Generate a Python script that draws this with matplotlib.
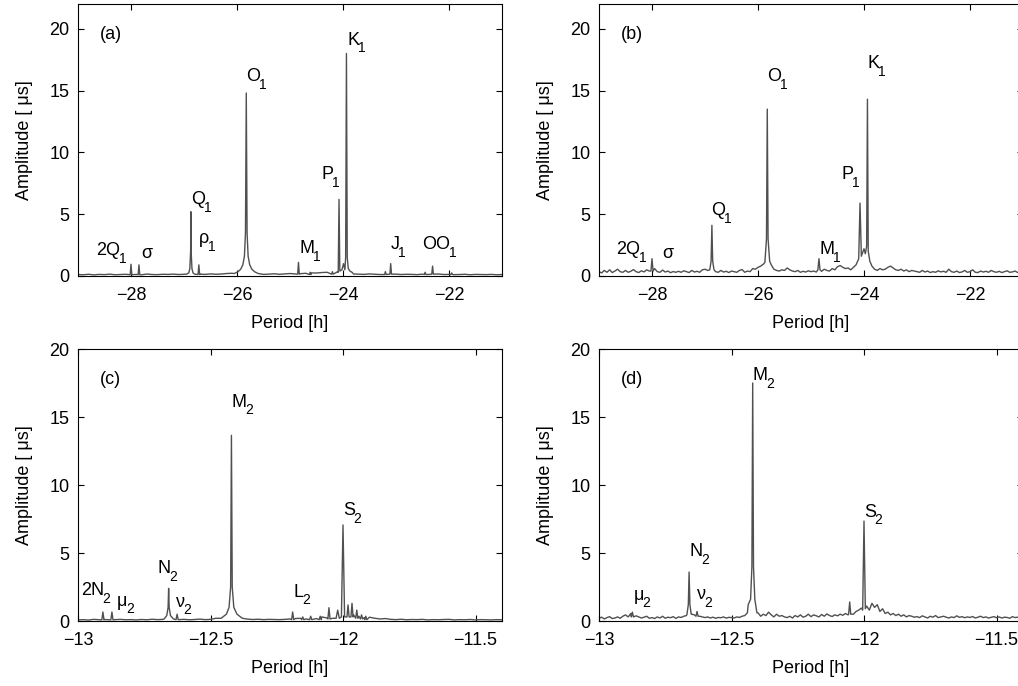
import numpy as np
import matplotlib
matplotlib.use("Agg")
import matplotlib.pyplot as plt

plt.rcParams["font.family"] = ["Liberation Sans", "DejaVu Sans"]
plt.rcParams["font.size"] = 13

LINE = "#505050"

# ---- panel (a): diurnal band, first record ----
base_a = [0.12,0.10,0.14,0.09,0.13,0.11,0.15,0.10,0.12,0.14,
          0.11,0.13,0.10,0.16,0.12,0.11,0.14,0.13,0.15,0.12,
          0.14,0.18,0.12,0.15,0.13,0.17,0.14,0.16,0.20,0.22,
          0.25,0.18,0.15,0.14,0.16,0.13,0.15,0.18,0.14,0.17,
          0.20,0.16,0.19,0.22,0.25,0.24,0.28,0.30,0.26,0.35,
          0.30,0.18,0.16,0.15,0.13,0.17,0.14,0.12,0.16,0.13,
          0.15,0.12,0.14,0.13,0.11,0.15,0.12,0.14,0.16,0.12,
          0.13,0.11,0.12,0.14,0.10,0.13,0.12,0.11,0.13,0.10,0.12]
peaks_a = [
    [(-28.015,0.1),(-28.0,0.95),(-27.985,0.1)],
    [(-27.865,0.1),(-27.85,0.9),(-27.835,0.1)],
    [(-26.95,0.15),(-26.91,0.25),(-26.89,0.6),(-26.875,2.0),(-26.87,5.2),
     (-26.865,2.0),(-26.85,0.6),(-26.83,0.25),(-26.80,0.15)],
    [(-26.735,0.12),(-26.72,0.9),(-26.705,0.12)],
    [(-26.05,0.2),(-25.98,0.35),(-25.93,0.55),(-25.89,0.9),(-25.86,1.6),
     (-25.84,3.5),(-25.825,14.8),(-25.81,3.5),(-25.79,1.6),(-25.76,0.9),
     (-25.72,0.55),(-25.67,0.35),(-25.6,0.2)],
    [(-24.855,0.15),(-24.84,1.1),(-24.825,0.15)],
    [(-24.635,0.12),(-24.62,0.3),(-24.605,0.12)],
    [(-24.215,0.15),(-24.2,0.35),(-24.185,0.15)],
    [(-24.09,0.3),(-24.075,6.2),(-24.06,0.4),(-24.02,0.5),(-23.99,1.0),
     (-23.965,0.5),(-23.95,1.5),(-23.935,18.0),(-23.92,1.5),(-23.9,0.6),
     (-23.87,0.4),(-23.83,0.3)],
    [(-23.215,0.12),(-23.2,0.35),(-23.185,0.12)],
    [(-23.115,0.15),(-23.1,1.0),(-23.085,0.15)],
    [(-22.465,0.12),(-22.45,0.3),(-22.435,0.12)],
    [(-22.325,0.15),(-22.31,0.8),(-22.295,0.15)],
    [(-21.965,0.12),(-21.95,0.25),(-21.935,0.12)],
]

# ---- panel (b): diurnal band, second record ----
base_b = [0.35,0.25,0.45,0.30,0.50,0.28,0.40,0.55,0.35,0.30,
          0.45,0.30,0.38,0.52,0.35,0.28,0.42,0.33,0.50,0.40,
          0.45,0.60,0.35,0.30,0.48,0.32,0.40,0.27,0.36,0.30,
          0.38,0.30,0.42,0.35,0.28,0.45,0.32,0.38,0.30,0.50,
          0.55,0.45,0.60,0.40,0.35,0.30,0.45,0.32,0.38,0.28,
          0.40,0.35,0.30,0.45,0.52,0.30,0.40,0.35,0.60,0.55,
          0.70,0.80,0.95,1.00,1.10,0.90,0.55,0.45,0.40,0.50,
          0.45,0.65,0.50,0.40,0.35,0.45,0.30,0.38,0.32,0.42,
          0.35,0.40,0.32,0.45,0.38,0.55,0.45,0.40,0.60,0.50,
          0.75,0.85,0.70,0.60,0.65,0.50,0.70,0.90,1.10,1.50,
          2.20,1.80,1.20,0.80,0.55,0.45,0.60,0.50,0.55,0.70,
          0.80,0.65,0.50,0.45,0.55,0.40,0.50,0.35,0.45,0.40,
          0.35,0.30,0.45,0.32,0.40,0.28,0.35,0.30,0.42,0.33,
          0.38,0.30,0.55,0.35,0.30,0.40,0.28,0.33,0.45,0.30,
          0.35,0.50,0.30,0.28,0.40,0.32,0.38,0.30,0.45,0.35,
          0.30,0.38,0.28,0.35,0.42,0.30,0.33,0.40,0.28,0.35,0.32]
peaks_b = [
    [(-28.02,0.4),(-28.0,1.4),(-27.98,0.4)],
    [(-26.91,0.5),(-26.885,1.2),(-26.87,4.1),(-26.855,1.2),(-26.83,0.5)],
    [(-25.87,1.1),(-25.84,3.0),(-25.825,13.5),(-25.81,3.0),(-25.78,1.2)],
    [(-24.87,0.5),(-24.85,1.4),(-24.83,0.5)],
    [(-24.1,1.4),(-24.075,5.9),(-24.05,1.6)],
    [(-23.975,1.8),(-23.95,2.4),(-23.935,14.3),(-23.92,2.0),(-23.89,1.2)],
]

# ---- panel (c): semidiurnal band, first record ----
base_c = [0.08,0.10,0.07,0.12,0.09,0.11,0.08,0.10,0.12,0.09,
          0.10,0.08,0.11,0.09,0.13,0.10,0.12,0.09,0.11,0.10,
          0.12,0.09,0.11,0.14,0.10,0.12,0.20,0.15,0.13,0.14,
          0.16,0.12,0.14,0.11,0.13,0.10,0.12,0.11,0.10,0.12,
          0.15,0.18,0.20,0.15,0.25,0.18,0.30,0.22,0.20,0.35,
          0.40,0.30,0.45,0.35,0.25,0.28,0.20,0.15,0.18,0.12,
          0.10,0.13,0.09,0.11,0.10,0.12,0.08,0.10,0.09,0.11,
          0.12,0.08,0.10,0.09,0.11,0.08,0.10,0.09,0.08,0.10,0.09]
peaks_c = [
    [(-12.91,0.08),(-12.906,0.66),(-12.902,0.08)],
    [(-12.876,0.08),(-12.872,0.66),(-12.868,0.08)],
    [(-12.675,0.15),(-12.665,0.4),(-12.66,1.0),(-12.658,2.4),(-12.656,1.0),
     (-12.651,0.4),(-12.64,0.15)],
    [(-12.63,0.1),(-12.626,0.5),(-12.622,0.1)],
    [(-12.46,0.2),(-12.44,0.5),(-12.43,1.0),(-12.424,2.5),(-12.421,13.65),
     (-12.418,2.5),(-12.412,1.0),(-12.40,0.5),(-12.38,0.2)],
    [(-12.194,0.1),(-12.19,0.66),(-12.186,0.1)],
    [(-12.156,0.1),(-12.152,0.3),(-12.148,0.1)],
    [(-12.126,0.1),(-12.122,0.35),(-12.118,0.1)],
    [(-12.09,0.1),(-12.086,0.35),(-12.082,0.1)],
    [(-12.057,0.15),(-12.053,0.98),(-12.049,0.15)],
    [(-12.026,0.2),(-12.02,0.8),(-12.014,0.2)],
    [(-12.006,0.3),(-12.0,7.06),(-11.994,0.3)],
    [(-11.985,0.3),(-11.981,1.18),(-11.977,0.3)],
    [(-11.970,0.3),(-11.966,1.3),(-11.962,0.3)],
    [(-11.952,0.2),(-11.948,0.8),(-11.944,0.2)],
    [(-11.934,0.15),(-11.93,0.45),(-11.926,0.15)],
    [(-11.918,0.1),(-11.914,0.35),(-11.91,0.1)],
]

# ---- panel (d): semidiurnal band, second record ----
base_d = [0.20,0.28,0.15,0.25,0.32,0.18,0.22,0.30,0.20,0.35,
          0.45,0.30,0.55,0.25,0.38,0.30,0.22,0.28,0.35,0.20,
          0.25,0.18,0.30,0.22,0.35,0.20,0.28,0.24,0.32,0.19,
          0.30,0.26,0.35,0.40,0.55,0.50,0.45,0.60,0.35,0.30,
          0.25,0.30,0.22,0.28,0.20,0.26,0.24,0.30,0.21,0.27,
          0.25,0.22,0.30,0.26,0.35,0.40,0.60,0.90,1.20,0.80,
          0.60,0.35,0.50,0.40,0.65,0.45,0.30,0.50,0.35,0.40,
          0.30,0.25,0.35,0.22,0.40,0.30,0.45,0.28,0.35,0.50,
          0.32,0.45,0.38,0.30,0.48,0.35,0.52,0.40,0.33,0.45,
          0.38,0.50,0.42,0.55,0.45,0.60,0.50,0.70,0.80,0.95,
          0.90,1.10,0.80,1.30,1.00,1.20,0.70,0.90,0.55,0.65,
          0.45,0.55,0.40,0.50,0.35,0.45,0.30,0.40,0.35,0.28,
          0.32,0.25,0.38,0.30,0.22,0.35,0.28,0.40,0.25,0.30,
          0.35,0.28,0.22,0.30,0.25,0.38,0.27,0.32,0.24,0.30,
          0.26,0.33,0.22,0.28,0.35,0.25,0.30,0.22,0.27,0.32,
          0.24,0.30,0.22,0.28,0.26,0.20,0.32,0.25,0.28,0.22,0.25]
peaks_d = [
    [(-12.878,0.3),(-12.874,0.65),(-12.870,0.3)],
    [(-12.668,0.5),(-12.663,1.2),(-12.66,3.6),(-12.657,1.2),(-12.652,0.5)],
    [(-12.634,0.35),(-12.63,0.7),(-12.626,0.35)],
    [(-12.437,1.2),(-12.428,1.6),(-12.423,4.0),(-12.42,17.5),(-12.417,4.0),
     (-12.412,1.6),(-12.404,0.6)],
    [(-12.058,0.5),(-12.054,1.4),(-12.05,0.5)],
    [(-12.005,0.8),(-12.0,7.35),(-11.995,0.9)],
]

# constituent labels: (name, subscript, left x, baseline y)
labels_a = [("(a)","",-28.58,19.2),("2Q","1",-28.66,1.7),("σ","",-27.80,1.46),
            ("Q","1",-26.87,5.8),("ρ","1",-26.72,2.67),("O","1",-25.82,15.75),
            ("M","1",-24.83,1.84),("P","1",-24.40,7.83),("K","1",-23.92,18.7),
            ("J","1",-23.10,2.16),("OO","1",-22.50,2.16)]
labels_b = [("(b)","",-28.58,19.2),("2Q","1",-28.67,1.74),("σ","",-27.80,1.46),
            ("Q","1",-26.88,4.9),("O","1",-25.82,15.77),("M","1",-24.84,1.76),
            ("P","1",-24.43,7.83),("K","1",-23.94,16.8)]
labels_c = [("(c)","",-12.917,17.4),("2N","2",-12.99,1.91),("μ","2",-12.852,1.13),
            ("N","2",-12.70,3.5),("ν","2",-12.63,1.05),("M","2",-12.42,15.76),
            ("L","2",-12.187,1.79),("S","2",-12.0,7.79)]
labels_d = [("(d)","",-12.918,17.4),("μ","2",-12.869,1.57),("N","2",-12.66,4.78),
            ("ν","2",-12.63,1.6),("M","2",-12.42,17.7),("S","2",-12.0,7.67)]

diurnal_ticks = [-28, -26, -24, -22]
diurnal_ticklabels = ["\u221228", "\u221226", "\u221224", "\u221222"]
semi_ticks = [-13, -12.5, -12, -11.5]
semi_ticklabels = ["\u221213", "\u221212.5", "\u221212", "\u221211.5"]


def spectrum(x0, x1, base, peaks):
    bx = np.linspace(x0, x1, len(base))
    by = np.array(base)
    keep = np.ones(len(bx), bool)
    for g in peaks:
        keep &= ~((bx >= g[0][0]) & (bx <= g[-1][0]))
    px = [p[0] for g in peaks for p in g]
    py = [p[1] for g in peaks for p in g]
    x = np.concatenate([bx[keep], px])
    y = np.concatenate([by[keep], py])
    o = np.argsort(x)
    return x[o], y[o]


fig = plt.figure(figsize=(10.18, 6.86), dpi=100)
renderer = fig.canvas.get_renderer()
W, H = 424/1018, 272/686
pos = {"a": [78/1018, 1-276/686, W, H], "b": [599/1018, 1-276/686, W, H],
       "c": [78/1018, 1-621/686, W, H], "d": [599/1018, 1-621/686, W, H]}

panels = [("a", -29, -21, base_a, peaks_a, labels_a, 22, diurnal_ticks, diurnal_ticklabels),
          ("b", -29, -21, base_b, peaks_b, labels_b, 22, diurnal_ticks, diurnal_ticklabels),
          ("c", -13, -11.4, base_c, peaks_c, labels_c, 20, semi_ticks, semi_ticklabels),
          ("d", -13, -11.4, base_d, peaks_d, labels_d, 20, semi_ticks, semi_ticklabels)]

for key, x0, x1, base, peaks, labels, ytop, xt, xtl in panels:
    ax = fig.add_axes(pos[key])
    x, y = spectrum(x0, x1, base, peaks)
    ax.plot(x, y, color=LINE, lw=1.0)
    ax.set_xlim(x0, x1)
    ax.set_ylim(0, ytop)
    ax.set_xticks(xt)
    ax.set_xticklabels(xtl)
    ax.set_yticks([0, 5, 10, 15, 20])
    ax.tick_params(direction="in", top=True, right=True, labelsize=13, length=4)
    ax.tick_params(axis="x", pad=8)
    ax.tick_params(axis="y", pad=6)
    for s in ax.spines.values():
        s.set_linewidth(0.8)
    ax.set_xlabel("Period [h]", fontsize=13, labelpad=8)
    ax.set_ylabel("Amplitude [ μs]", fontsize=13, labelpad=12)
    for name, sub, lx, ly in labels:
        t = ax.text(lx, ly, name, ha="left", va="baseline", fontsize=13)
        if sub:
            w = t.get_window_extent(renderer).width * 72 / fig.dpi
            ax.annotate(sub, (lx, ly), xytext=(w - 1.0, -5.5),
                        textcoords="offset points", ha="left", va="baseline",
                        fontsize=10)

fig.savefig("out.png", dpi=100)
